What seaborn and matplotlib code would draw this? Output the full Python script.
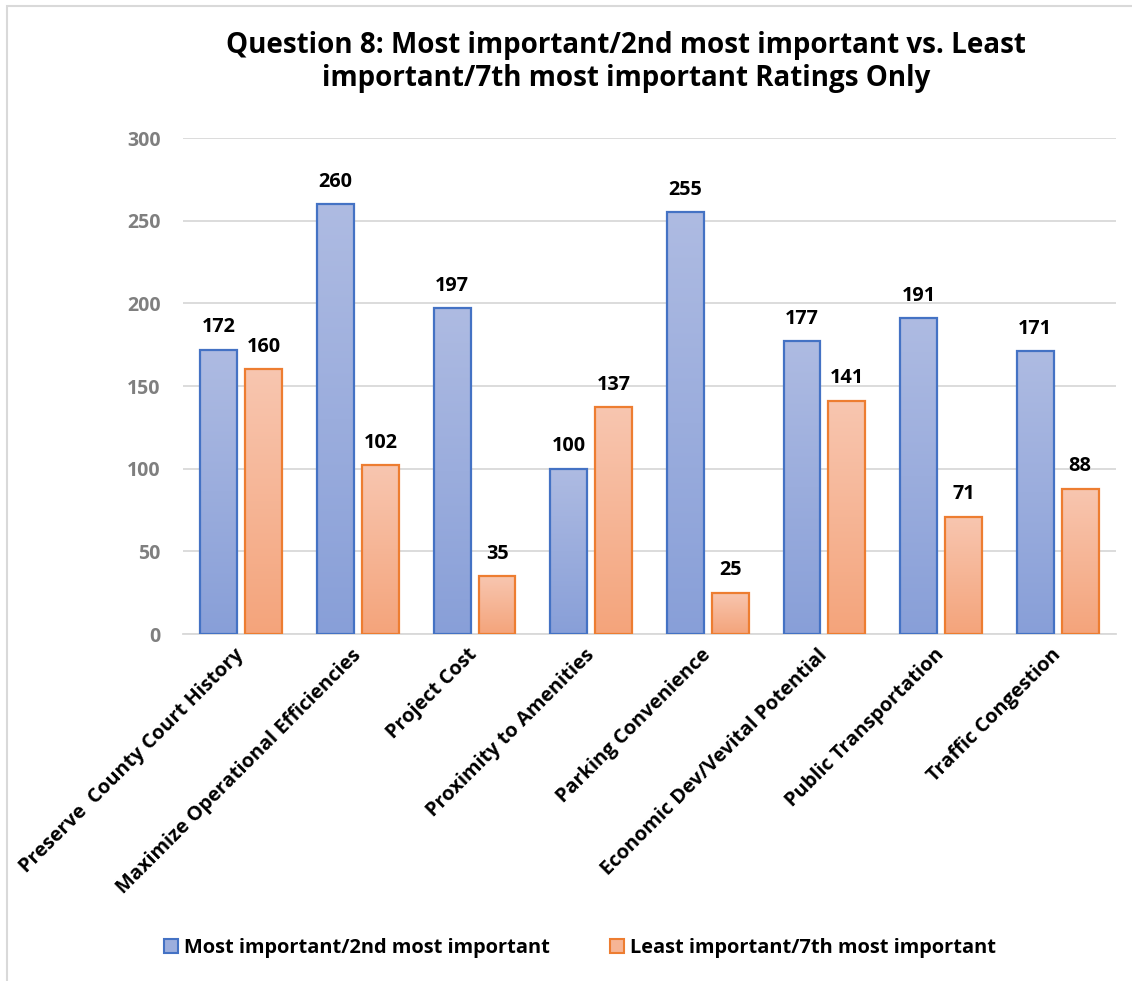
import numpy as np
import pandas as pd
import matplotlib
matplotlib.use("Agg")
import matplotlib.pyplot as plt
import seaborn as sns
from matplotlib.colors import LinearSegmentedColormap
from matplotlib.patches import Patch, Rectangle

# ---- data ----
categories = [
    "Preserve  County Court History",
    "Maximize Operational Efficiencies",
    "Project Cost",
    "Proximity to Amenities",
    "Parking Convenience",
    "Economic Dev/Vevital Potential",
    "Public Transportation",
    "Traffic Congestion",
]
most_important = [172, 260, 197, 100, 255, 177, 191, 171]
least_important = [160, 102, 35, 137, 25, 141, 71, 88]
series_names = ["Most important/2nd most important", "Least important/7th most important"]
y_ticks = [0, 50, 100, 150, 200, 250, 300]
title = "Question 8: Most important/2nd most important vs. Least\nimportant/7th most important Ratings Only"

# ---- style ----
sns.set_theme(style="white")
plt.rcParams["font.family"] = ["Open Sans", "DejaVu Sans"]
plt.rcParams["font.weight"] = "bold"
plt.rcParams["text.color"] = "black"

W, H = 1132, 981
fig = plt.figure(figsize=(W / 100, H / 100), dpi=100)
ax = fig.add_axes([183 / W, (H - 634) / H, (1116 - 183) / W, (634 - 138) / H])

df = pd.DataFrame({
    "category": categories * 2,
    "value": most_important + least_important,
    "series": [series_names[0]] * len(categories) + [series_names[1]] * len(categories),
})

edge_cols = ["#4472c4", "#ed7d31"]
top_cols = ["#aebbe2", "#f8c6b0"]
bot_cols = ["#889fd8", "#f4a47b"]
mid_cols = ["#9caedd", "#f6b595"]

sns.barplot(data=df, x="category", y="value", hue="series", order=categories,
            hue_order=series_names, palette=mid_cols, saturation=1,
            width=0.77, gap=0.18, ax=ax, legend=False, linewidth=1.6)

ax.set_ylim(0, 300)
ax.set_xlim(-0.5, len(categories) - 0.5)
ax.set_yticks(y_ticks)

# gradient fill for each bar
for ci, cont in enumerate(ax.containers):
    cmap = LinearSegmentedColormap.from_list("g%d" % ci, [bot_cols[ci], top_cols[ci]])
    grad = np.linspace(1, 0, 256).reshape(-1, 1)
    for bar in cont:
        bar.set_edgecolor(edge_cols[ci])
        bar.set_facecolor("none")
        bar.set_zorder(3)
        x, w, h = bar.get_x(), bar.get_width(), bar.get_height()
        im = ax.imshow(grad, cmap=cmap, vmin=0, vmax=1, extent=[x, x + w, 0, h],
                       aspect="auto", zorder=2.5, interpolation="bicubic")
        im.set_clip_path(bar)
    ax.bar_label(cont, padding=9, fontsize=14.3, fontweight="bold", color="black")

ax.set_xlim(-0.5, len(categories) - 0.5)
ax.set_ylim(0, 300)
ax.set_aspect("auto")

ax.yaxis.grid(True, color="#d9d9d9", linewidth=1.3)
ax.set_axisbelow(True)
for s in ["top", "right", "left"]:
    ax.spines[s].set_visible(False)
ax.spines["bottom"].set_color("#d9d9d9")
ax.spines["bottom"].set_linewidth(1.3)
ax.tick_params(axis="both", length=0)
ax.tick_params(axis="y", pad=16, labelsize=14, labelcolor="#7f7f7f")
ax.tick_params(axis="x", pad=13, labelsize=14.4, labelcolor="black")
for lab in ax.get_yticklabels():
    lab.set_fontweight("bold")
for lab in ax.get_xticklabels():
    lab.set_rotation(45)
    lab.set_ha("right")
    lab.set_va("center")
    lab.set_rotation_mode("anchor")
    lab.set_fontweight("bold")
ax.set_xlabel("")
ax.set_ylabel("")

fig.text(626 / W, 1 - 62 / H, title, ha="center", va="center", fontsize=20,
         fontweight="bold", linespacing=1.15, color="black")

handles = [Patch(facecolor=mid_cols[i], edgecolor=edge_cols[i], linewidth=1.5, label=series_names[i])
           for i in range(2)]
fig.legend(handles=handles, loc="center", bbox_to_anchor=(580 / W, 1 - 948 / H), ncol=2,
           frameon=False, fontsize=14.4, handlelength=0.7, handleheight=0.7,
           columnspacing=3.0, handletextpad=0.3, labelcolor="black")

fig.patches.append(Rectangle((7 / W, -0.1), 1.2, 1.1 - 6 / H, transform=fig.transFigure,
                             fill=False, edgecolor="#d9d9d9", linewidth=1.5))

fig.savefig("out.png", dpi=100)
